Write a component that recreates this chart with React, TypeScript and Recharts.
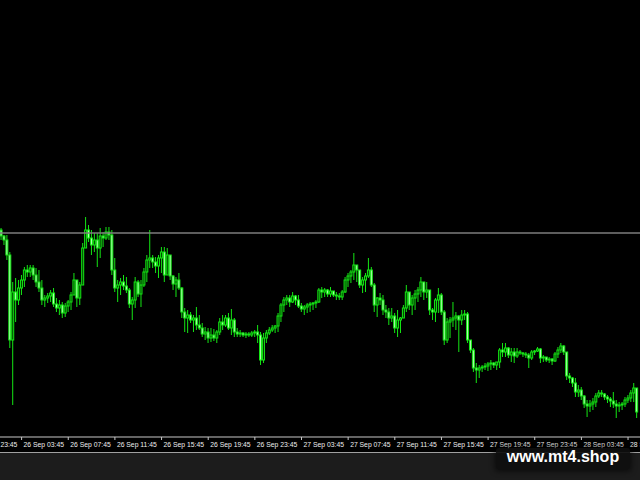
import React from 'react';
import { ComposedChart, Bar, XAxis, YAxis, ReferenceLine } from 'recharts';

// M15 bars, bar 0 = 26 Sep 02:00
const firstOpen = 1.177;

const highs = [
  1.1772, 1.1765, 1.1765, 1.1748, 1.1718, 1.1722, 1.172, 1.1725, 1.1733, 1.1735,
  1.1735, 1.1735, 1.1732, 1.173, 1.172, 1.1705, 1.1707, 1.171, 1.1712, 1.1702,
  1.17, 1.1698, 1.1697, 1.17, 1.1708, 1.1727, 1.172, 1.1718, 1.1757, 1.1783,
  1.1775, 1.177, 1.1767, 1.1767, 1.1772, 1.1768, 1.1773,
  1.1773, 1.177, 1.1742, 1.172, 1.1722, 1.1725, 1.1723, 1.1712, 1.1703, 1.1723,
  1.172, 1.172, 1.1732, 1.1745, 1.177, 1.1745, 1.1743, 1.1745, 1.1753, 1.1753,
  1.1752, 1.1745, 1.1725, 1.1723, 1.1727, 1.1713, 1.1692, 1.169, 1.1688, 1.1685,
  1.1693, 1.1685, 1.1677, 1.1673, 1.1672, 1.1672, 1.1671,
  1.167, 1.1682, 1.1685, 1.1685, 1.1687, 1.1691, 1.1682, 1.1672, 1.167, 1.1668,
  1.1668, 1.1668, 1.1669, 1.167, 1.1675, 1.1668, 1.1667, 1.167, 1.1673, 1.1675,
  1.1675, 1.1687, 1.1697, 1.1703, 1.1705, 1.1705, 1.1708, 1.1705, 1.1705, 1.1697,
  1.1695, 1.1697, 1.1698, 1.1698, 1.17, 1.1712,
  1.1713, 1.1712, 1.1711, 1.1713, 1.1709, 1.1708, 1.1707, 1.171, 1.1723, 1.1727,
  1.173, 1.1747, 1.1733, 1.1725, 1.1723, 1.1727, 1.1742, 1.1733, 1.1717, 1.1703,
  1.1707, 1.1705, 1.1695, 1.1692, 1.1692, 1.1687, 1.169, 1.1683, 1.1695, 1.1715,
  1.1708, 1.1705, 1.171, 1.1713, 1.1723, 1.1713, 1.1718,
  1.171, 1.1692, 1.1702, 1.1712, 1.1707, 1.169, 1.1682, 1.1683, 1.1698, 1.1688,
  1.1685, 1.169, 1.169, 1.1688, 1.166, 1.1652, 1.1637, 1.1635, 1.1635, 1.1637,
  1.1638, 1.164, 1.1638, 1.1637, 1.1652, 1.1657, 1.1657, 1.1653, 1.1652, 1.1652,
  1.1652, 1.165, 1.1648, 1.1648, 1.1647, 1.165, 1.165,
  1.1653, 1.1652, 1.1645, 1.1643, 1.1643, 1.1642, 1.1648, 1.1653, 1.1657, 1.1655,
  1.1648, 1.1627, 1.1623, 1.1622, 1.1615, 1.1613, 1.1605, 1.16, 1.16, 1.1602,
  1.1607, 1.161, 1.161, 1.1607, 1.1605, 1.1603, 1.1608, 1.16, 1.1598, 1.1598,
  1.1603, 1.1605, 1.161, 1.1617, 1.1608,
];

const lows = [
  1.176, 1.1755, 1.174, 1.1652, 1.1595, 1.1678, 1.1695, 1.1705, 1.1713, 1.1723,
  1.1723, 1.172, 1.1713, 1.1708, 1.1695, 1.1693, 1.1697, 1.1698, 1.1693, 1.1688,
  1.1685, 1.1682, 1.1683, 1.1688, 1.169, 1.1705, 1.1693, 1.1695, 1.1715, 1.1752,
  1.1758, 1.1745, 1.1748, 1.1733, 1.1742, 1.1753, 1.176,
  1.176, 1.1725, 1.1708, 1.1698, 1.1705, 1.171, 1.1707, 1.1692, 1.168, 1.1692,
  1.1703, 1.1693, 1.1713, 1.1718, 1.1732, 1.1732, 1.1727, 1.1722, 1.1727, 1.1718,
  1.173, 1.172, 1.171, 1.1703, 1.171, 1.1682, 1.1668, 1.1667, 1.1677, 1.1668,
  1.167, 1.167, 1.1663, 1.166, 1.1657, 1.1658, 1.1659,
  1.1657, 1.1665, 1.167, 1.1673, 1.167, 1.1665, 1.1663, 1.1663, 1.1663, 1.1663,
  1.1662, 1.1663, 1.1663, 1.1663, 1.1657, 1.1635, 1.1637, 1.1657, 1.1665, 1.1668,
  1.1667, 1.1668, 1.1678, 1.1688, 1.1695, 1.1693, 1.1697, 1.1695, 1.1692, 1.1688,
  1.1685, 1.1687, 1.1688, 1.169, 1.1692, 1.1697,
  1.1702, 1.1703, 1.1703, 1.1703, 1.1703, 1.17, 1.17, 1.17, 1.1707, 1.1713,
  1.1717, 1.172, 1.1718, 1.1712, 1.1707, 1.1708, 1.1722, 1.1713, 1.1688, 1.1683,
  1.1695, 1.1685, 1.1682, 1.1675, 1.1678, 1.1667, 1.1663, 1.1667, 1.1682, 1.1688,
  1.169, 1.1685, 1.169, 1.1698, 1.1703, 1.17, 1.1702,
  1.1685, 1.168, 1.1678, 1.1687, 1.1685, 1.1655, 1.1657, 1.1662, 1.1673, 1.167,
  1.1648, 1.1675, 1.168, 1.1657, 1.1647, 1.1628, 1.1617, 1.1622, 1.1628, 1.163,
  1.1629, 1.163, 1.1632, 1.163, 1.1632, 1.1643, 1.1643, 1.1642, 1.1638, 1.1637,
  1.1642, 1.1645, 1.1643, 1.1642, 1.1632, 1.164, 1.1645,
  1.1648, 1.1637, 1.1638, 1.1638, 1.1637, 1.1635, 1.1638, 1.1642, 1.1647, 1.1645,
  1.162, 1.1617, 1.1613, 1.1603, 1.1603, 1.16, 1.1592, 1.1583, 1.1588, 1.159,
  1.1593, 1.1602, 1.1603, 1.16, 1.1597, 1.1593, 1.1592, 1.1582, 1.1588, 1.159,
  1.1593, 1.1597, 1.1598, 1.1598, 1.1582,
];

const closes = [
  1.1764, 1.176, 1.1745, 1.166, 1.1708, 1.17, 1.1712, 1.172, 1.173, 1.1728,
  1.1732, 1.1725, 1.1718, 1.1712, 1.17, 1.1702, 1.1704, 1.1707, 1.1696, 1.1692,
  1.1695, 1.1687, 1.1694, 1.1698, 1.1705, 1.172, 1.1702, 1.1715, 1.1752, 1.177,
  1.1762, 1.1755, 1.176, 1.1752, 1.1764, 1.1762, 1.1768,
  1.1765, 1.173, 1.1712, 1.1715, 1.1718, 1.1714, 1.171, 1.1696, 1.17, 1.1718,
  1.1706, 1.1715, 1.1728, 1.174, 1.1742, 1.1738, 1.1734, 1.1742, 1.1748, 1.1725,
  1.1745, 1.1724, 1.1716, 1.172, 1.1712, 1.1688, 1.1682, 1.1685, 1.168, 1.1682,
  1.1675, 1.1672, 1.1666, 1.1668, 1.1662, 1.1665, 1.1662,
  1.1668, 1.1678, 1.1675, 1.1682, 1.1672, 1.168, 1.1668, 1.1666, 1.1667, 1.1665,
  1.1666, 1.1665, 1.1667, 1.1668, 1.1665, 1.164, 1.1662, 1.1667, 1.167, 1.1672,
  1.1674, 1.1684, 1.1695, 1.17, 1.1702, 1.1698, 1.1704, 1.17, 1.1694, 1.1691,
  1.1693, 1.1695, 1.1696, 1.1697, 1.1698, 1.171,
  1.1708, 1.171, 1.1706, 1.1709, 1.1705, 1.1704, 1.1703, 1.1708, 1.172, 1.1724,
  1.1728, 1.1735, 1.173, 1.1715, 1.172, 1.1724, 1.173, 1.1715, 1.1695, 1.1702,
  1.17, 1.169, 1.1688, 1.1682, 1.1684, 1.1672, 1.168, 1.1682, 1.1692, 1.1708,
  1.1695, 1.1702, 1.1706, 1.171, 1.1718, 1.1708, 1.171,
  1.169, 1.1688, 1.17, 1.1705, 1.1688, 1.166, 1.1678, 1.168, 1.1682, 1.1684,
  1.168, 1.1685, 1.1686, 1.166, 1.165, 1.1632, 1.163, 1.1632, 1.1633, 1.1634,
  1.1636, 1.1637, 1.1635, 1.1638, 1.165, 1.1648, 1.1652, 1.1645, 1.1648, 1.1644,
  1.1648, 1.1647, 1.1646, 1.1645, 1.1642, 1.1648, 1.1649,
  1.1651, 1.1642, 1.1643, 1.164, 1.1641, 1.1639, 1.1646, 1.165, 1.1654, 1.1648,
  1.1624, 1.1622, 1.1617, 1.1608, 1.161, 1.1604, 1.1596, 1.1594, 1.1596, 1.1598,
  1.1604, 1.1607, 1.1606, 1.1603, 1.1601, 1.1599, 1.1596, 1.1594, 1.1595, 1.1596,
  1.16, 1.1602, 1.1607, 1.1612, 1.1588,
];

// time labels every 16 bars (4 hours)
const tickBars = [-9, 7, 23, 39, 55, 71, 87, 103, 119, 135, 151, 167, 183, 199, 215];
const tickLabels = [
  '25 Sep 23:45', '26 Sep 03:45', '26 Sep 07:45', '26 Sep 11:45', '26 Sep 15:45',
  '26 Sep 19:45', '26 Sep 23:45', '27 Sep 03:45', '27 Sep 07:45', '27 Sep 11:45',
  '27 Sep 15:45', '27 Sep 19:45', '27 Sep 23:45', '28 Sep 03:45', '28 Sep 07:45',
];

const levelPrice = 1.1767;

const LIME = '#14e614';

const table = closes.map((c, i) => {
  const o = i === 0 ? firstOpen : closes[i - 1];
  const h = highs[i];
  const l = lows[i];
  return { i, o, c, h, l, range: [Math.min(l, o, c), Math.max(h, o, c)] };
});

const Candle = (props: any) => {
  const { x, y, width, height, payload } = props;
  if (x == null || !payload) return null;
  const [lo, hi] = payload.range;
  const top = Math.min(y, y + height);
  const h = Math.abs(height);
  const k = hi === lo ? 0 : h / (hi - lo);
  const cx = x + width / 2;
  const bodyTop = top + (hi - Math.max(payload.o, payload.c)) * k;
  const bodyBot = top + (hi - Math.min(payload.o, payload.c)) * k;
  const bear = payload.c < payload.o;
  return (
    <g>
      <line x1={cx} x2={cx} y1={top} y2={top + h} stroke={LIME} strokeWidth={1} />
      <rect
        x={cx - 1}
        y={bodyTop}
        width={2}
        height={Math.max(bodyBot - bodyTop, 0.5)}
        fill={bear ? '#b4ffb4' : '#003c00'}
        stroke={LIME}
        strokeWidth={1}
      />
    </g>
  );
};

const TimeTick = (props: any) => {
  const { x, payload } = props;
  const idx = tickBars.indexOf(payload.value);
  return (
    <g>
      <line x1={x} x2={x} y1={437} y2={440} stroke="#c8c8c8" />
      <text x={x + 2} y={447} fill="#eeeeee" fontSize={6.8} fontFamily="Liberation Sans, Arial, sans-serif">
        {tickLabels[idx]}
      </text>
    </g>
  );
};

export default function App() {
  return (
    <div style={{ position: 'absolute', left: 0, top: 0, width: 640, height: 480, overflow: 'hidden', background: '#1c1c1c' }}>
      <div style={{ position: 'absolute', left: 0, top: 0, width: 640, height: 452, background: '#000', borderBottom: '1px solid #a0a0a0' }} />
      <div style={{ position: 'absolute', left: -60, top: 0 }}>
        <ComposedChart width={700} height={452} data={table} margin={{ top: 0, right: 0, bottom: 0, left: 0 }}>
          <XAxis
            dataKey="i"
            type="number"
            domain={[-20.99, 219.1]}
            allowDataOverflow
            ticks={tickBars}
            interval={0}
            height={15}
            axisLine={{ stroke: '#c8c8c8' }}
            tickLine={false}
            tick={<TimeTick />}
          />
          <YAxis hide type="number" domain={[1.1563, 1.2]} allowDataOverflow />
          <ReferenceLine y={levelPrice} stroke="#7c7c7c" strokeWidth={1.5} />
          <Bar dataKey="range" barSize={3} shape={<Candle />} isAnimationActive={false} />
        </ComposedChart>
      </div>
      <div
        style={{
          position: 'absolute',
          left: 496,
          top: 448,
          width: 134,
          height: 22,
          background: 'rgba(14,14,14,0.92)',
          borderRadius: 3,
          boxShadow: '0 0 5px 2px rgba(0,0,0,0.5)',
          color: '#ffffff',
          fontFamily: 'Liberation Sans, Arial, sans-serif',
          fontWeight: 'bold',
          fontSize: 16,
          lineHeight: '18px',
          textAlign: 'center',
        }}
      >
        www.mt4.shop
      </div>
    </div>
  );
}
